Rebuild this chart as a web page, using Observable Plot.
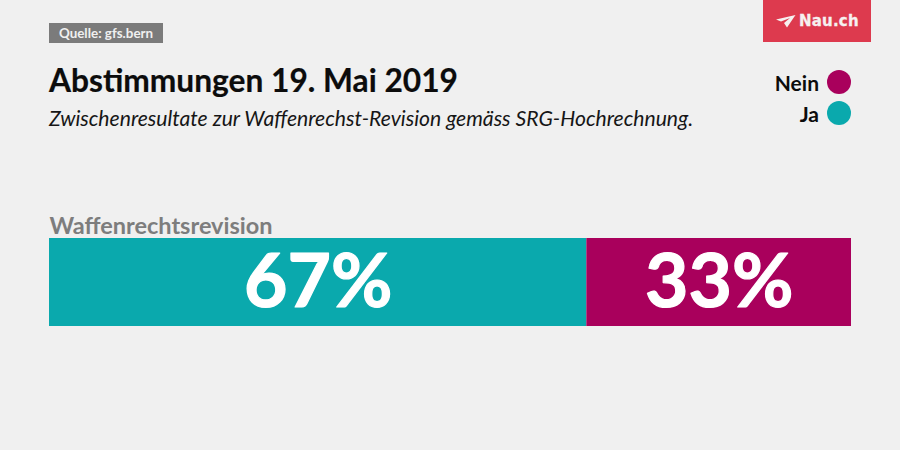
<!DOCTYPE html>
<html lang="de">
<head>
<meta charset="utf-8">
<script src="https://cdn.jsdelivr.net/npm/d3@7"></script>
<script src="https://cdn.jsdelivr.net/npm/@observablehq/plot@0.6"></script>
<style>
html,body{margin:0;padding:0;background:#f0f0f0;width:900px;height:450px;overflow:hidden;font-family:Lato,sans-serif}
#page{position:relative;width:900px;height:450px}
#page>div{position:absolute;white-space:nowrap}
#source{left:49px;top:23px;width:114px;height:20px;line-height:20px;background:#7b7b7b;color:#f0f0f0;font-size:13.4px;font-weight:700;text-align:center}
#title{left:49px;top:61px;font-size:31.7px;font-weight:700;color:#0c0c0c;line-height:38px;-webkit-text-stroke:.2px #0c0c0c}
#subtitle{left:49px;top:104px;font-size:21.15px;font-style:italic;color:#161616;line-height:28px}
#logo{left:763px;top:0;width:108px;height:42px;background:#dd3a4e;color:#f6f0f0;font:700 15px "DejaVu Sans",sans-serif}
#logo svg{position:absolute;left:13px;top:15px}
#logo span{position:absolute;left:36px;top:11px;line-height:20px;letter-spacing:.2px;-webkit-text-stroke:.3px #f6f0f0}
.lg{right:81px;font-size:21px;font-weight:700;color:#0c0c0c;line-height:24px}
.dot{width:24px;height:24px;border-radius:50%;left:827px}
#plot{left:0;top:200px}
#plot svg{display:block;background:transparent}
</style>
</head>
<body>
<div id="page">
  <div id="source">Quelle: gfs.bern</div>
  <div id="title">Abstimmungen 19. Mai 2019</div>
  <div id="subtitle">Zwischenresultate zur Waffenrechst-Revision gemäss SRG-Hochrechnung.</div>
  <div id="logo"><svg width="20" height="13" viewBox="0 0 20 13"><path d="M0 4.5 19.5 0 11 12.5 8 8 14 3 5 6.5Z" fill="#f6f0f0"/></svg><span>Nau.ch</span></div>
  <div class="lg" id="lg0" style="top:71px"></div><div class="dot" id="dot0" style="top:70px"></div>
  <div class="lg" id="lg1" style="top:102px"></div><div class="dot" id="dot1" style="top:101px"></div>
  <div id="plot"></div>
</div>
<script>
const question = ["Waffenrechtsrevision"];
const answers = ["Ja", "Nein"];
const shares = [67, 33];
const colors = ["#0aa9ad", "#a9005c"];
const legendOrder = ["Nein", "Ja"];

const rows = answers.map((a, i) => ({question: question[0], answer: a, share: shares[i]}));

legendOrder.forEach((a, i) => {
  document.getElementById("lg" + i).textContent = a;
  document.getElementById("dot" + i).style.background = colors[answers.indexOf(a)];
});

const chart = Plot.plot({
  width: 900,
  height: 126,
  marginLeft: 49,
  marginRight: 49,
  marginTop: 38,
  marginBottom: 0,
  style: {background: "transparent", fontFamily: "Lato, sans-serif"},
  x: {domain: [0, 100], axis: null},
  y: {domain: question, axis: null, padding: 0},
  color: {domain: answers, range: colors},
  marks: [
    Plot.barX(rows, Plot.stackX({x: "share", y: "question", fill: "answer", order: null})),
    Plot.text(rows, Plot.stackX({
      x: "share", y: "question", order: null,
      text: d => d.share + "%",
      fill: "#fff", fontSize: 75, fontWeight: 700, stroke: "#fff", strokeWidth: 1.2, dy: 0
    })),
    Plot.text(question, {
      x: () => 0, text: d => d,
      frameAnchor: "top", textAnchor: "start", lineAnchor: "bottom",
      dy: -5, fontSize: 23.5, fontWeight: 700, fill: "#7d7d7d"
    })
  ]
});
document.getElementById("plot").append(chart);
</script>
</body>
</html>
